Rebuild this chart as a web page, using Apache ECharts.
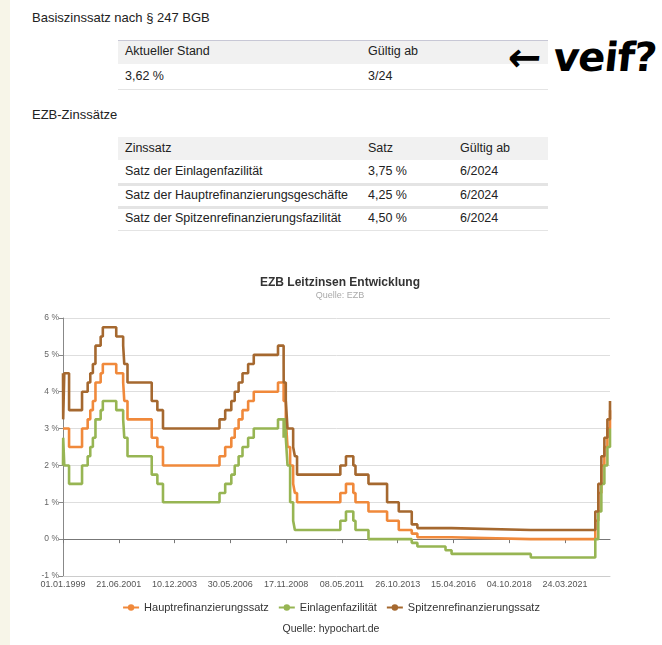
<!DOCTYPE html>
<html>
<head>
<meta charset="utf-8">
<script src="https://cdn.jsdelivr.net/npm/echarts@6/dist/echarts.min.js"></script>
<style>
  html, body { margin:0; padding:0; }
  body { width:662px; height:645px; background:#f7f5e8; position:relative; overflow:hidden;
         font-family:"Liberation Sans", Arial, sans-serif; color:#222; }
  #page { position:absolute; left:10px; top:0; width:652px; height:645px; background:#fff; }
  .abs { position:absolute; white-space:nowrap; }
  .h { font-size:13px; color:#222; }
  .cell { font-size:12.5px; color:#222; line-height:23px; }
  .hdr { position:absolute; background:#f1f1f1; }
  .sep { position:absolute; background:#e4e4e4; }
  #chart { position:absolute; left:0; top:260px; width:662px; height:385px; }
  #scribble { position:absolute; left:508px; top:34px; font-family:"DejaVu Sans", sans-serif;
              font-weight:900; font-size:40px; color:#000; letter-spacing:-1px; transform:skewX(-6deg); }
</style>
</head>
<body>
<div id="page"></div>

<div class="abs h" style="left:32px; top:10px;">Basiszinssatz nach § 247 BGB</div>
<div class="hdr" style="left:118px; top:40px; width:430px; height:23px; border-top:1px solid #c8c8d6;"></div>
<div class="sep" style="left:118px; top:89px; width:430px; height:1px;"></div>
<div class="abs cell" style="left:125px; top:40px;">Aktueller Stand</div>
<div class="abs cell" style="left:368px; top:40px;">Gültig ab</div>
<div class="abs cell" style="left:125px; top:65px;">3,62 %</div>
<div class="abs cell" style="left:368px; top:65px;">3/24</div>

<div id="scribble">← veif?</div>

<div class="abs h" style="left:32px; top:107px;">EZB-Zinssätze</div>
<div class="hdr" style="left:118px; top:137px; width:430px; height:23px;"></div>
<div class="sep" style="left:118px; top:183px; width:430px; height:3px;"></div>
<div class="sep" style="left:118px; top:206px; width:430px; height:3px;"></div>
<div class="sep" style="left:118px; top:230px; width:430px; height:1px;"></div>
<div class="abs cell" style="left:125px; top:137px;">Zinssatz</div>
<div class="abs cell" style="left:368px; top:137px;">Satz</div>
<div class="abs cell" style="left:460px; top:137px;">Gültig ab</div>
<div class="abs cell" style="left:125px; top:160px;">Satz der Einlagenfazilität</div>
<div class="abs cell" style="left:368px; top:160px;">3,75 %</div>
<div class="abs cell" style="left:460px; top:160px;">6/2024</div>
<div class="abs cell" style="left:125px; top:184px;">Satz der Hauptrefinanzierungsgeschäfte</div>
<div class="abs cell" style="left:368px; top:184px;">4,25 %</div>
<div class="abs cell" style="left:460px; top:184px;">6/2024</div>
<div class="abs cell" style="left:125px; top:207px;">Satz der Spitzenrefinanzierungsfazilität</div>
<div class="abs cell" style="left:368px; top:207px;">4,50 %</div>
<div class="abs cell" style="left:460px; top:207px;">6/2024</div>

<div id="chart"></div>

<script>
// ---- data ----
const dates = ['1999-01-01','1999-01-04','1999-01-22','1999-04-09','1999-11-05',
  '2000-02-04','2000-03-17','2000-04-28','2000-06-09','2000-09-01','2000-10-06',
  '2001-05-11','2001-08-31','2001-09-18','2001-11-09',
  '2002-12-06','2003-03-07','2003-06-06',
  '2005-12-06','2006-03-08','2006-06-15','2006-08-09','2006-10-11','2006-12-13',
  '2007-03-14','2007-06-13',
  '2008-07-09','2008-10-08','2008-10-09','2008-11-12','2008-12-10',
  '2009-01-21','2009-03-11','2009-04-08','2009-05-13',
  '2011-04-13','2011-07-13','2011-11-09','2011-12-14',
  '2012-07-11','2013-05-08','2013-11-13','2014-06-11','2014-09-10','2015-12-09',
  '2016-03-16','2019-09-18',
  '2022-07-27','2022-09-14','2022-11-02','2022-12-21','2023-02-08','2023-03-22'];
const hauptrefinanzierungssatz = [3.00,3.00,3.00,2.50,3.00, 3.25,3.50,3.75,4.25,4.50,4.75,
  4.50,4.25,3.75,3.25, 2.75,2.50,2.00, 2.25,2.50,2.75,3.00,3.25,3.50, 3.75,4.00,
  4.25,3.75,3.75,3.25,2.50, 2.00,1.50,1.25,1.00, 1.25,1.50,1.25,1.00,
  0.75,0.50,0.25,0.15,0.05,0.05, 0.00,0.00, 0.50,1.25,2.00,2.50,3.00,3.50];
const einlagenfazilitaet = [2.00,2.75,2.00,1.50,2.00, 2.25,2.50,2.75,3.25,3.50,3.75,
  3.50,3.25,2.75,2.25, 1.75,1.50,1.00, 1.25,1.50,1.75,2.00,2.25,2.50, 2.75,3.00,
  3.25,2.75,3.25,2.75,2.00, 1.00,0.50,0.25,0.25, 0.50,0.75,0.50,0.25,
  0.00,0.00,0.00,-0.10,-0.20,-0.30, -0.40,-0.50, 0.00,0.75,1.50,2.00,2.50,3.00];
const spitzenrefinanzierungssatz = [4.50,3.25,4.50,3.50,4.00, 4.25,4.50,4.75,5.25,5.50,5.75,
  5.50,5.25,4.75,4.25, 3.75,3.50,3.00, 3.25,3.50,3.75,4.00,4.25,4.50, 4.75,5.00,
  5.25,4.75,4.25,3.75,3.00, 3.00,2.50,2.25,1.75, 2.00,2.25,2.00,1.75,
  1.50,1.00,0.75,0.40,0.30,0.30, 0.25,0.25, 0.75,1.50,2.25,2.75,3.25,3.75];
const tickDates = ['1999-01-01','2001-06-21','2003-12-10','2006-05-30','2008-11-17',
  '2011-05-08','2013-10-26','2016-04-15','2018-10-04','2021-03-24'];

// ---- helpers ----
const DAY = 86400000;
const ORIGIN = Date.UTC(1999,0,1);
function dayIndex(s){ const p = s.split('-').map(Number); return (Date.UTC(p[0],p[1]-1,p[2]) - ORIGIN)/DAY; }
function fmt(d){ const t = new Date(ORIGIN + Math.round(d)*DAY);
  const dd = String(t.getUTCDate()).padStart(2,'0'), mm = String(t.getUTCMonth()+1).padStart(2,'0');
  return dd + '.' + mm + '.' + t.getUTCFullYear(); }
const xs = dates.map(dayIndex);
const tickX = tickDates.map(dayIndex);
const xMax = xs[xs.length-1];
const pairs = arr => xs.map((x,i)=>[x, arr[i]]);

const FONT = '"Liberation Sans", Arial, sans-serif';
const chart = echarts.init(document.getElementById('chart'), null, {renderer:'canvas'});

function lineSeries(name, data, color){
  return { name, type:'line', data, step:'end', xAxisIndex:0, yAxisIndex:0,
    symbol:'circle', symbolSize:7, showSymbol:false, animation:false,
    lineStyle:{ color, width:2.6 }, itemStyle:{ color } };
}

chart.setOption({
  animation:false,
  backgroundColor:'transparent',
  textStyle:{ fontFamily:FONT },
  title:{ text:'EZB Leitzinsen Entwicklung', subtext:'Quelle: EZB', left:335, top:12, textAlign:'center',
    itemGap:2,
    textStyle:{ fontFamily:FONT, fontSize:12, fontWeight:'bold', color:'#333' },
    subtextStyle:{ fontFamily:FONT, fontSize:9, color:'#aaa' } },
  legend:{ top:337, left:'center', itemWidth:16, itemHeight:8, itemGap:9,
    textStyle:{ fontFamily:FONT, fontSize:11, color:'#333' },
    data:['Hauptrefinanzierungssatz','Einlagenfazilität','Spitzenrefinanzierungssatz'] },
  graphic:[{ type:'text', left:'center', top:364,
    style:{ text:'Quelle: hypochart.de', fontFamily:FONT, fontSize:10.5, fill:'#333' } }],
  grid:{ left:63, right:52, top:58, bottom:69 },
  xAxis:[
    { type:'value', position:'bottom', min:0, max:xMax,
      axisLine:{ show:true, onZero:false, lineStyle:{ color:'#ccc' } },
      axisTick:{ show:false },
      splitLine:{ show:false },
      axisLabel:{ customValues:tickX, formatter:v=>fmt(v), fontSize:9, color:'#555', margin:4, fontFamily:FONT } },
    { type:'value', position:'bottom', min:0, max:xMax,
      axisLine:{ show:true, onZero:true, lineStyle:{ color:'#777' } },
      axisTick:{ show:true, customValues:tickX, length:4, lineStyle:{ color:'#777' } },
      splitLine:{ show:false },
      axisLabel:{ show:false } }
  ],
  yAxis:{ type:'value', min:-1, max:6, interval:1,
    axisLine:{ show:true, lineStyle:{ color:'#888' } },
    axisTick:{ show:true, length:4, lineStyle:{ color:'#888' } },
    splitLine:{ show:true, lineStyle:{ color:'#dedede' } },
    axisLabel:{ formatter:v=>v + ' %', fontSize:8.5, color:'#666', margin:4, fontFamily:FONT } },
  series:[
    lineSeries('Hauptrefinanzierungssatz', pairs(hauptrefinanzierungssatz), '#f0893b'),
    lineSeries('Einlagenfazilität', pairs(einlagenfazilitaet), '#97b553'),
    lineSeries('Spitzenrefinanzierungssatz', pairs(spitzenrefinanzierungssatz), '#a5682f')
  ]
});
</script>
</body>
</html>
